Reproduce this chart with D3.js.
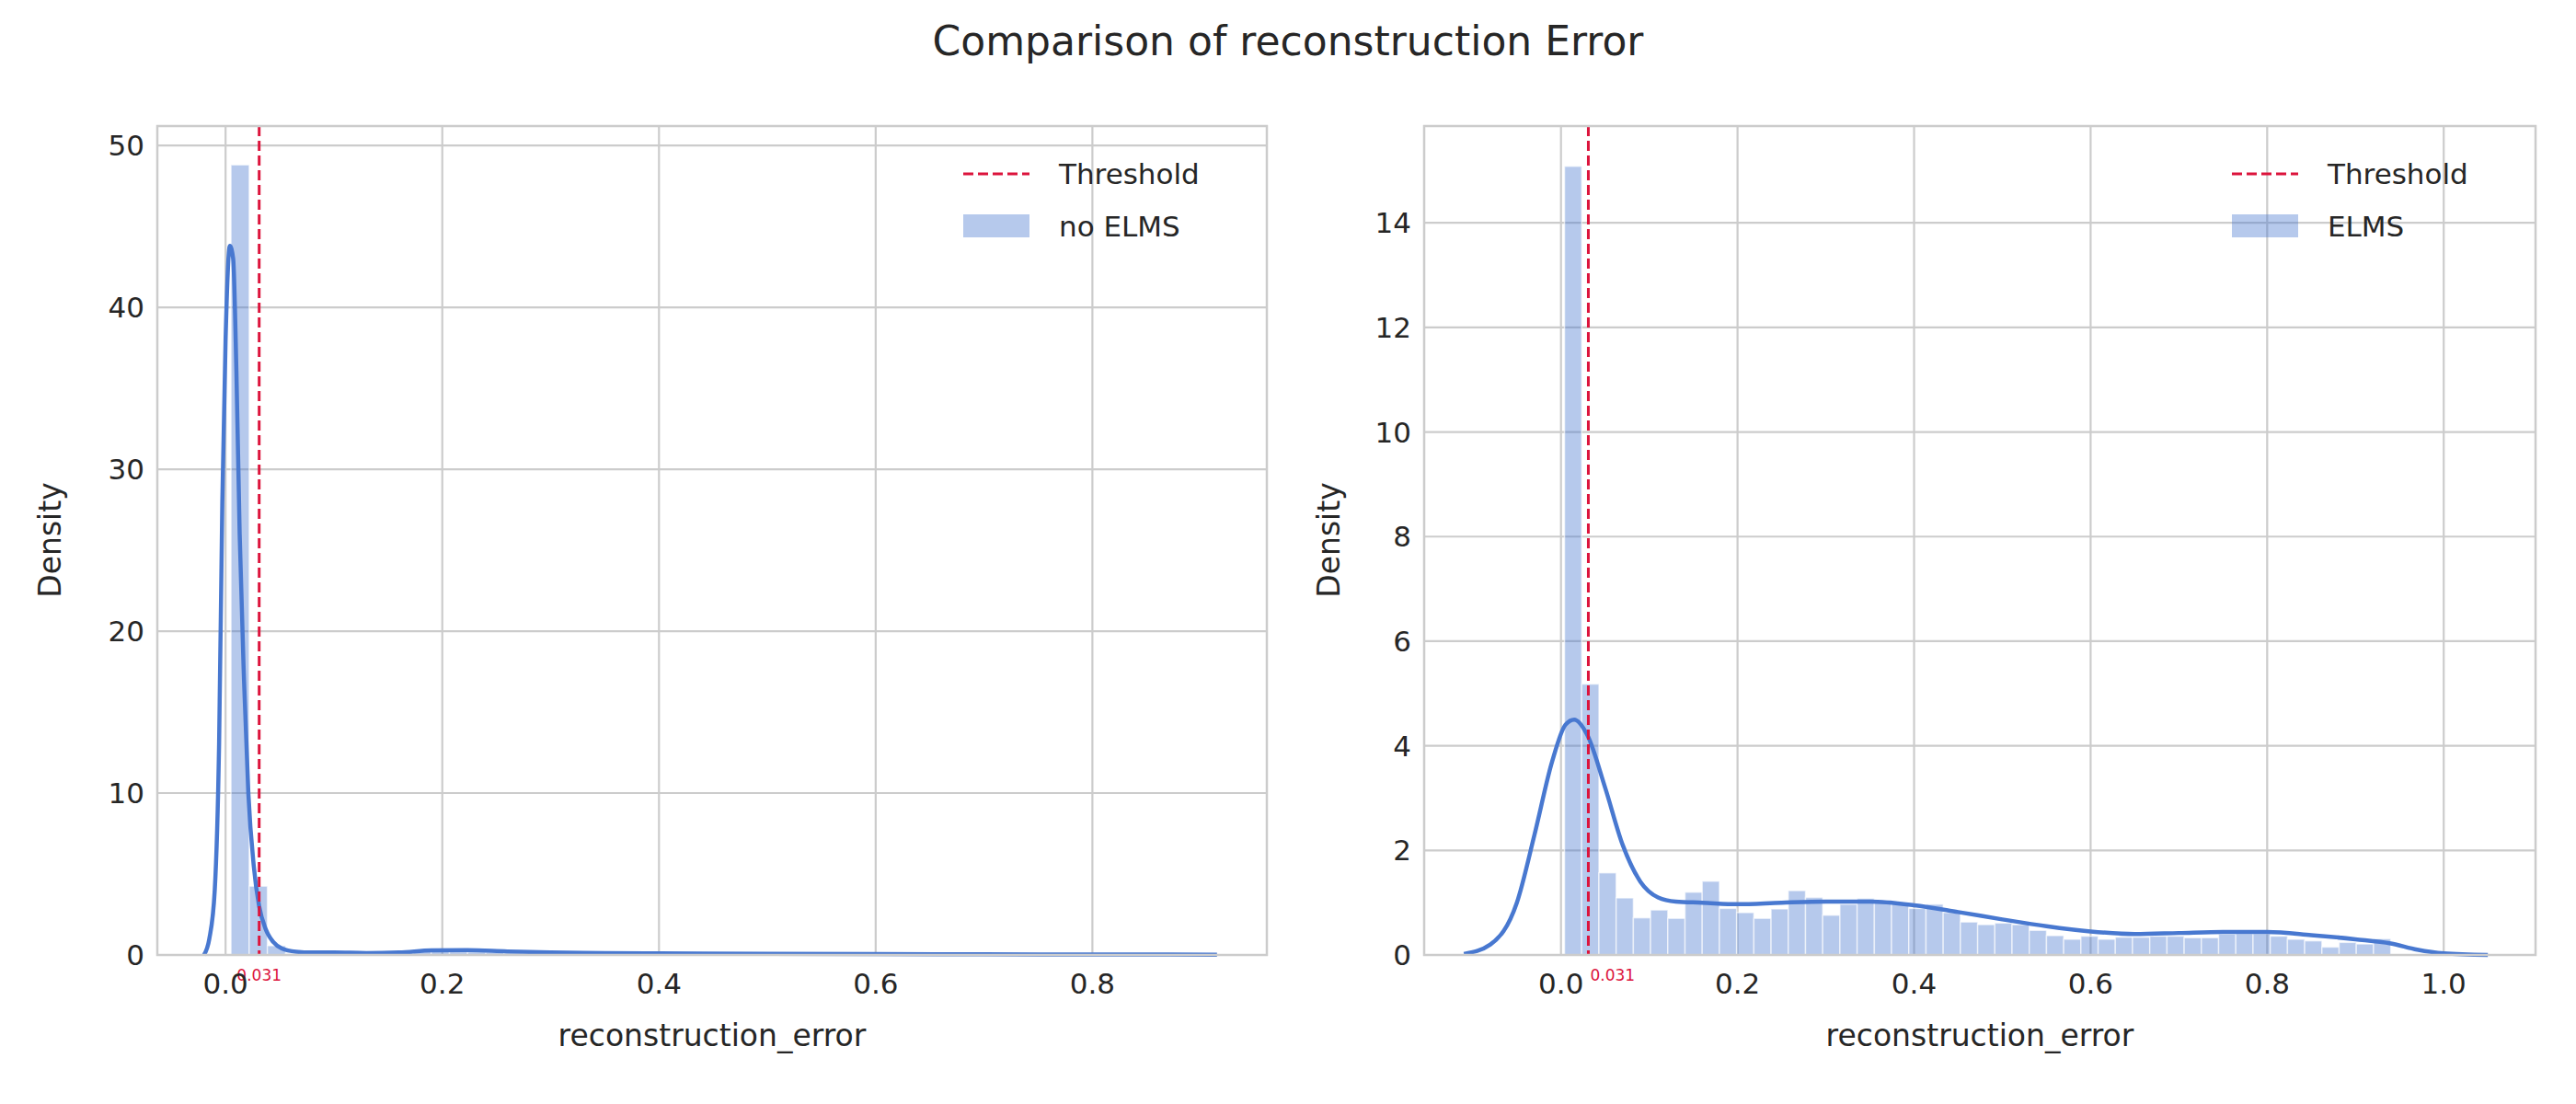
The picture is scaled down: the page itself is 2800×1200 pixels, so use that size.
<!DOCTYPE html>
<html>
<head>
<meta charset="utf-8">
<script src="https://cdn.jsdelivr.net/npm/d3@7"></script>
<style>
  body { margin: 0; background: #fff; }
  text { font-family: "DejaVu Sans", sans-serif; fill: #262626; }
</style>
</head>
<body>
<script>
const threshold = 0.031;

// left panel: no ELMS
const leftBinStart = 0.005;
const leftBinWidth = 0.0168;
const leftBins = [48.8, 4.25, 0.57, 0.08, 0.05, 0.05, 0.08, 0.12, 0.18, 0.25, 0.3, 0.25, 0.2, 0.18, 0.15, 0.12, 0.1, 0.1, 0.08, 0.06, 0.05, 0.05, 0.05, 0.04, 0.04, 0.04, 0.03, 0.03, 0.03, 0.03, 0.03, 0.03, 0.02, 0.02, 0.02, 0.02, 0.02, 0.02, 0.02, 0.02, 0.02, 0.02, 0.02, 0.02, 0.02, 0.02, 0.02, 0.02, 0.02, 0.02, 0.02, 0.02, 0.02];
const leftKdeX = [-0.02, -0.015, -0.01, -0.006, -0.003, 0.0, 0.004, 0.007, 0.01, 0.013, 0.017, 0.021, 0.026, 0.031, 0.037, 0.044, 0.052, 0.065, 0.08, 0.1, 0.13, 0.16, 0.19, 0.22, 0.26, 0.3, 0.35, 0.4, 0.5, 0.6, 0.7, 0.8, 0.915];
const leftKdeY = [0, 1.0, 4.0, 13, 28, 38, 43.8, 43.0, 36, 26, 17, 10, 5.5, 3.0, 1.6, 0.8, 0.4, 0.2, 0.15, 0.15, 0.12, 0.15, 0.28, 0.3, 0.22, 0.15, 0.12, 0.1, 0.07, 0.05, 0.04, 0.03, 0.02];

// right panel: ELMS
const rightBinStart = 0.004;
const rightBinWidth = 0.0195;
const rightBins = [15.08, 5.18, 1.57, 1.09, 0.71, 0.86, 0.7, 1.2, 1.41, 0.89, 0.81, 0.7, 0.88, 1.23, 1.1, 0.76, 0.97, 1.08, 1.05, 0.99, 0.89, 0.97, 0.81, 0.63, 0.58, 0.61, 0.58, 0.47, 0.37, 0.3,
  0.36, 0.3, 0.34, 0.34, 0.36, 0.36, 0.33, 0.33, 0.4, 0.41, 0.41, 0.36, 0.3, 0.27, 0.15, 0.24, 0.21, 0.31];
const rightKdeX = [-0.11, -0.08, -0.05, -0.03, -0.01, 0.005, 0.015, 0.03, 0.05, 0.07, 0.09, 0.11, 0.13, 0.16, 0.2, 0.25, 0.3, 0.35, 0.4, 0.45, 0.5, 0.55, 0.6, 0.65, 0.7, 0.75, 0.8, 0.85, 0.9, 0.94, 0.97, 1.0, 1.05];
const rightKdeY = [0.02, 0.2, 1.0, 2.3, 3.7, 4.4, 4.5, 4.2, 3.2, 2.1, 1.4, 1.1, 1.02, 1.0, 0.97, 1.0, 1.02, 1.02, 0.95, 0.82, 0.68, 0.55, 0.45, 0.4, 0.42, 0.44, 0.44, 0.38, 0.3, 0.22, 0.1, 0.03, 0.0];

const leftTicksX = [0.0, 0.2, 0.4, 0.6, 0.8];
const leftTicksY = [0, 10, 20, 30, 40, 50];
const rightTicksX = [0.0, 0.2, 0.4, 0.6, 0.8, 1.0];
const rightTicksY = [0, 2, 4, 6, 8, 10, 12, 14];

const W = 2800, H = 1200;
const svg = d3.select("body").append("svg").attr("width", W).attr("height", H);

svg.append("text").attr("x", 1400).attr("y", 60).attr("text-anchor", "middle")
  .style("font-size", "44px").text("Comparison of reconstruction Error");

function panel(opt) {
  const x = d3.scaleLinear().domain(opt.xDom).range([opt.x0, opt.x1]);
  const y = d3.scaleLinear().domain(opt.yDom).range([1038, 137]);
  const g = svg.append("g");
  // grid
  g.selectAll(".gx").data(opt.ticksX).join("line")
    .attr("x1", d => x(d)).attr("x2", d => x(d)).attr("y1", 137).attr("y2", 1038)
    .attr("stroke", "#cccccc").attr("stroke-width", 2.2);
  g.selectAll(".gy").data(opt.ticksY).join("line")
    .attr("x1", opt.x0).attr("x2", opt.x1).attr("y1", d => y(d)).attr("y2", d => y(d))
    .attr("stroke", "#cccccc").attr("stroke-width", 2.2);
  // bars
  g.selectAll(".bar").data(opt.bins).join("rect")
    .attr("x", (d, i) => x(opt.binStart + i * opt.binWidth))
    .attr("width", x(opt.binWidth) - x(0))
    .attr("y", d => y(d)).attr("height", d => y(0) - y(d))
    .attr("fill", "#4878d0").attr("fill-opacity", 0.4)
    .attr("stroke", "#fff").attr("stroke-opacity", 0.6).attr("stroke-width", 1.5);
  // kde
  const line = d3.line().x(d => x(d[0])).y(d => y(d[1])).curve(d3.curveMonotoneX);
  g.append("path").datum(d3.zip(opt.kdeX, opt.kdeY)).attr("d", line)
    .attr("fill", "none").attr("stroke", "#4878d0").attr("stroke-width", 4.5);
  // threshold
  g.append("line").attr("x1", x(threshold)).attr("x2", x(threshold)).attr("y1", 137).attr("y2", 1038)
    .attr("stroke", "crimson").attr("stroke-width", 3).attr("stroke-dasharray", "11,5");
  g.append("text").attr("x", x(threshold) + opt.labelDx).attr("y", 1066)
    .attr("text-anchor", opt.labelAnchor).style("font-size", "17px").style("fill", "crimson").text("0.031");
  // frame
  g.append("rect").attr("x", opt.x0).attr("y", 137).attr("width", opt.x1 - opt.x0).attr("height", 901)
    .attr("fill", "none").attr("stroke", "#cccccc").attr("stroke-width", 2.5);
  // tick labels
  g.selectAll(".tx").data(opt.ticksX).join("text")
    .attr("x", d => x(d)).attr("y", 1080).attr("text-anchor", "middle")
    .style("font-size", "31px").text(d => d.toFixed(1));
  g.selectAll(".ty").data(opt.ticksY).join("text")
    .attr("x", opt.x0 - 14).attr("y", d => y(d) + 11).attr("text-anchor", "end")
    .style("font-size", "31px").text(d => d);
  g.append("text").attr("x", (opt.x0 + opt.x1) / 2).attr("y", 1137).attr("text-anchor", "middle")
    .style("font-size", "33px").text("reconstruction_error");
  g.append("text").attr("transform", `translate(${opt.x0 - opt.yLabelOff},587) rotate(-90)`)
    .attr("text-anchor", "middle").style("font-size", "33px").text("Density");
  // legend
  const lx = opt.x1 - 330;
  g.append("line").attr("x1", lx).attr("x2", lx + 72).attr("y1", 189).attr("y2", 189)
    .attr("stroke", "crimson").attr("stroke-width", 3).attr("stroke-dasharray", "11,5");
  g.append("text").attr("x", lx + 104).attr("y", 200).style("font-size", "31px").text("Threshold");
  g.append("rect").attr("x", lx).attr("y", 233).attr("width", 72).attr("height", 25)
    .attr("fill", "#4878d0").attr("fill-opacity", 0.4);
  g.append("text").attr("x", lx + 104).attr("y", 257).style("font-size", "31px").text(opt.name);
}

panel({ x0: 171, x1: 1377, xDom: [-0.063, 0.961], yDom: [0, 51.2],
  ticksX: leftTicksX, ticksY: leftTicksY, bins: leftBins, binStart: leftBinStart, binWidth: leftBinWidth,
  kdeX: leftKdeX, kdeY: leftKdeY, name: "no ELMS", labelAnchor: "middle", labelDx: 0, yLabelOff: 105 });
panel({ x0: 1548, x1: 2756, xDom: [-0.155, 1.104], yDom: [0, 15.85],
  ticksX: rightTicksX, ticksY: rightTicksY, bins: rightBins, binStart: rightBinStart, binWidth: rightBinWidth,
  kdeX: rightKdeX, kdeY: rightKdeY, name: "ELMS", labelAnchor: "start", labelDx: 2, yLabelOff: 92 });
</script>
</body>
</html>
